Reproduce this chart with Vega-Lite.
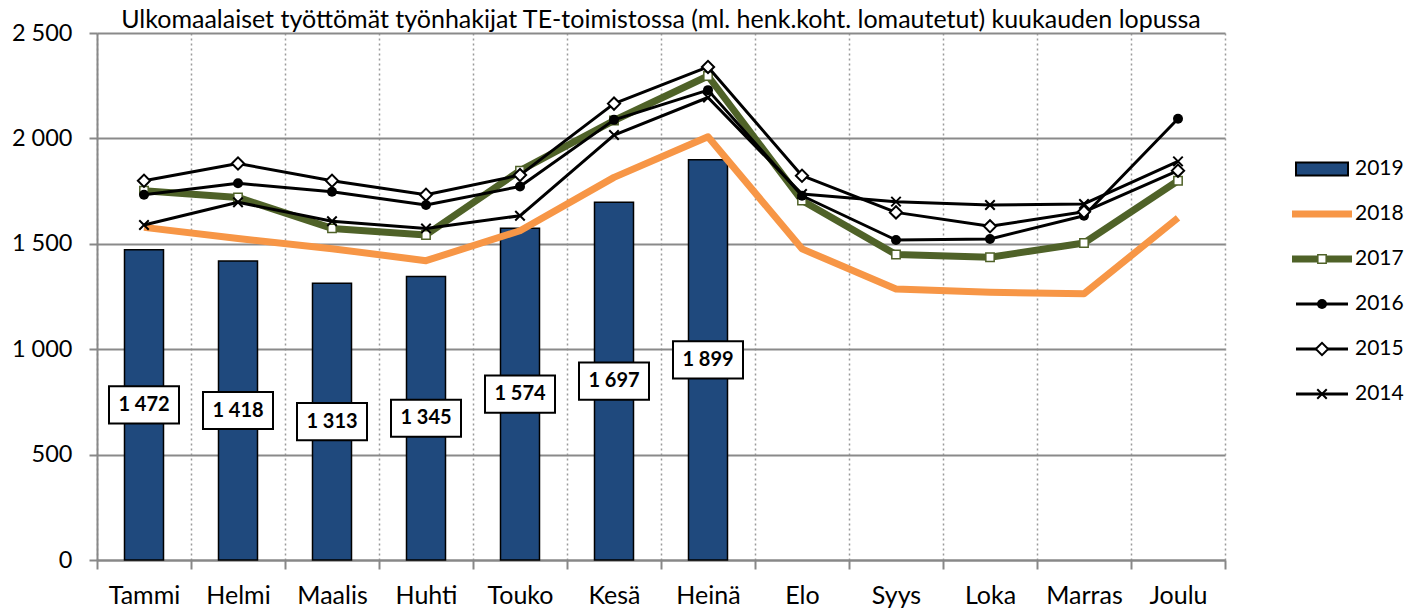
{
  "$schema": "https://vega.github.io/schema/vega-lite/v6.json",
  "autosize": "none",
  "width": 1128,
  "height": 527,
  "padding": {"left": 97, "top": 33, "right": 181, "bottom": 53},
  "background": "white",
  "config": {
    "view": {"stroke": null},
    "font": "Lato",
    "locale": {"number": {"decimal": ",", "thousands": " ", "grouping": [3], "currency": ["", " €"]}}
  },
  "datasets": {
    "series": [
      {"month": "Tammi", "year": "2019", "value": 1472},
      {"month": "Helmi", "year": "2019", "value": 1418},
      {"month": "Maalis", "year": "2019", "value": 1313},
      {"month": "Huhti", "year": "2019", "value": 1345},
      {"month": "Touko", "year": "2019", "value": 1574},
      {"month": "Kesä", "year": "2019", "value": 1697},
      {"month": "Heinä", "year": "2019", "value": 1899},
      {"month": "Tammi", "year": "2018", "value": 1578},
      {"month": "Helmi", "year": "2018", "value": 1525},
      {"month": "Maalis", "year": "2018", "value": 1477},
      {"month": "Huhti", "year": "2018", "value": 1420},
      {"month": "Touko", "year": "2018", "value": 1562},
      {"month": "Kesä", "year": "2018", "value": 1815},
      {"month": "Heinä", "year": "2018", "value": 2008},
      {"month": "Elo", "year": "2018", "value": 1476},
      {"month": "Syys", "year": "2018", "value": 1286},
      {"month": "Loka", "year": "2018", "value": 1270},
      {"month": "Marras", "year": "2018", "value": 1263},
      {"month": "Joulu", "year": "2018", "value": 1623},
      {"month": "Tammi", "year": "2017", "value": 1752},
      {"month": "Helmi", "year": "2017", "value": 1720},
      {"month": "Maalis", "year": "2017", "value": 1573},
      {"month": "Huhti", "year": "2017", "value": 1542},
      {"month": "Touko", "year": "2017", "value": 1847},
      {"month": "Kesä", "year": "2017", "value": 2085},
      {"month": "Heinä", "year": "2017", "value": 2296},
      {"month": "Elo", "year": "2017", "value": 1705},
      {"month": "Syys", "year": "2017", "value": 1449},
      {"month": "Loka", "year": "2017", "value": 1436},
      {"month": "Marras", "year": "2017", "value": 1504},
      {"month": "Joulu", "year": "2017", "value": 1799},
      {"month": "Tammi", "year": "2016", "value": 1733},
      {"month": "Helmi", "year": "2016", "value": 1787},
      {"month": "Maalis", "year": "2016", "value": 1747},
      {"month": "Huhti", "year": "2016", "value": 1684},
      {"month": "Touko", "year": "2016", "value": 1772},
      {"month": "Kesä", "year": "2016", "value": 2088},
      {"month": "Heinä", "year": "2016", "value": 2229},
      {"month": "Elo", "year": "2016", "value": 1728},
      {"month": "Syys", "year": "2016", "value": 1518},
      {"month": "Loka", "year": "2016", "value": 1523},
      {"month": "Marras", "year": "2016", "value": 1633},
      {"month": "Joulu", "year": "2016", "value": 2093},
      {"month": "Tammi", "year": "2015", "value": 1799},
      {"month": "Helmi", "year": "2015", "value": 1881},
      {"month": "Maalis", "year": "2015", "value": 1799},
      {"month": "Huhti", "year": "2015", "value": 1733},
      {"month": "Touko", "year": "2015", "value": 1826},
      {"month": "Kesä", "year": "2015", "value": 2165},
      {"month": "Heinä", "year": "2015", "value": 2339},
      {"month": "Elo", "year": "2015", "value": 1823},
      {"month": "Syys", "year": "2015", "value": 1649},
      {"month": "Loka", "year": "2015", "value": 1583},
      {"month": "Marras", "year": "2015", "value": 1652},
      {"month": "Joulu", "year": "2015", "value": 1847},
      {"month": "Tammi", "year": "2014", "value": 1589},
      {"month": "Helmi", "year": "2014", "value": 1697},
      {"month": "Maalis", "year": "2014", "value": 1607},
      {"month": "Huhti", "year": "2014", "value": 1573},
      {"month": "Touko", "year": "2014", "value": 1633},
      {"month": "Kesä", "year": "2014", "value": 2016},
      {"month": "Heinä", "year": "2014", "value": 2194},
      {"month": "Elo", "year": "2014", "value": 1736},
      {"month": "Syys", "year": "2014", "value": 1700},
      {"month": "Loka", "year": "2014", "value": 1684},
      {"month": "Marras", "year": "2014", "value": 1689},
      {"month": "Joulu", "year": "2014", "value": 1891}
    ],
    "legend": [
      {"year": "2019"},
      {"year": "2018"},
      {"year": "2017"},
      {"year": "2016"},
      {"year": "2015"},
      {"year": "2014"}
    ]
  },
  "layer": [
    {
      "title": {
        "text": "Ulkomaalaiset työttömät työnhakijat TE-toimistossa (ml. henk.koht. lomautetut) kuukauden lopussa",
        "fontSize": 25,
        "font": "Lato",
        "fontWeight": "normal",
        "color": "black",
        "anchor": "middle",
        "offset": -12
      },
      "data": {"name": "series"},
      "encoding": {
        "x": {
          "field": "month",
          "type": "nominal",
          "sort": ["Tammi", "Helmi", "Maalis", "Huhti", "Touko", "Kesä", "Heinä", "Elo", "Syys", "Loka", "Marras", "Joulu"],
          "scale": {"type": "band", "paddingInner": 0, "paddingOuter": 0},
          "axis": {
            "title": null,
            "tickBand": "extent",
            "labelAngle": 0,
            "labelFont": "Lato",
            "labelFontSize": 25,
            "labelColor": "black",
            "labelPadding": 14,
            "grid": true,
            "gridDash": [2, 3],
            "gridColor": "#9a9a9a",
            "gridWidth": 1.5,
            "domainColor": "#888888",
            "domainWidth": 2,
            "tickColor": "#888888",
            "tickWidth": 2,
            "tickSize": 9
          }
        },
        "y": {
          "field": "value",
          "type": "quantitative",
          "scale": {"domain": [0, 2500], "nice": false},
          "axis": {
            "title": null,
            "values": [0, 500, 1000, 1500, 2000, 2500],
            "format": ",d",
            "labelFont": "Lato",
            "labelFontSize": 23.5,
            "labelColor": "black",
            "labelPadding": 17,
            "grid": true,
            "gridColor": "#8a8a8a",
            "gridWidth": 2,
            "domainColor": "#888888",
            "domainWidth": 2,
            "tickColor": "#888888",
            "tickWidth": 2,
            "tickSize": 8
          }
        }
      },
      "layer": [
        {
          "transform": [{"filter": "datum.year == '2019'"}],
          "mark": {"type": "bar", "size": 39, "fill": "#1F497D", "stroke": "black", "strokeWidth": 1.5}
        },
        {
          "transform": [{"filter": "datum.year == '2018'"}],
          "mark": {"type": "line", "color": "#F79646", "strokeWidth": 7, "strokeJoin": "round"}
        },
        {
          "transform": [{"filter": "datum.year == '2017'"}],
          "mark": {"type": "line", "color": "#4F6228", "strokeWidth": 7, "strokeJoin": "round"}
        },
        {
          "transform": [{"filter": "datum.year == '2017'"}],
          "mark": {"type": "point", "shape": "square", "filled": true, "fill": "white", "stroke": "#4F6228", "strokeWidth": 1.5, "size": 70, "opacity": 1}
        },
        {
          "transform": [{"filter": "datum.year == '2016'"}],
          "mark": {"type": "line", "color": "black", "strokeWidth": 3, "strokeJoin": "round"}
        },
        {
          "transform": [{"filter": "datum.year == '2016'"}],
          "mark": {"type": "point", "shape": "circle", "filled": true, "fill": "black", "size": 100, "opacity": 1}
        },
        {
          "transform": [{"filter": "datum.year == '2015'"}],
          "mark": {"type": "line", "color": "black", "strokeWidth": 3, "strokeJoin": "round"}
        },
        {
          "transform": [{"filter": "datum.year == '2015'"}],
          "mark": {"type": "point", "shape": "diamond", "filled": true, "fill": "white", "stroke": "black", "strokeWidth": 2, "size": 150, "opacity": 1}
        },
        {
          "transform": [{"filter": "datum.year == '2014'"}],
          "mark": {"type": "line", "color": "black", "strokeWidth": 3, "strokeJoin": "round"}
        },
        {
          "transform": [{"filter": "datum.year == '2014'"}],
          "mark": {"type": "point", "shape": "M-1,-1L1,1M-1,1L1,-1", "filled": false, "stroke": "black", "strokeWidth": 2, "size": 90, "opacity": 1}
        },
        {
          "transform": [{"filter": "datum.year == '2019'"}, {"calculate": "datum.value / 2", "as": "mid"}],
          "mark": {"type": "point", "shape": "M-1,-0.53H1V0.53H-1Z", "filled": true, "fill": "white", "stroke": "black", "strokeWidth": 2, "size": 4900, "opacity": 1},
          "encoding": {"y": {"field": "mid", "type": "quantitative"}}
        },
        {
          "transform": [{"filter": "datum.year == '2019'"}, {"calculate": "datum.value / 2", "as": "mid"}],
          "mark": {"type": "text", "font": "Lato", "fontSize": 20, "fontWeight": "bold", "color": "black", "baseline": "middle", "align": "center"},
          "encoding": {
            "y": {"field": "mid", "type": "quantitative"},
            "text": {"field": "value", "type": "quantitative", "format": ",d"}
          }
        }
      ]
    },
    {
      "data": {"name": "legend"},
      "encoding": {
        "y": {
          "field": "year",
          "type": "nominal",
          "sort": ["2019", "2018", "2017", "2016", "2015", "2014"],
          "scale": {"type": "point", "range": [136, 361], "padding": 0},
          "axis": null
        }
      },
      "layer": [
        {
          "transform": [{"filter": "datum.year == '2019'"}],
          "mark": {"type": "point", "shape": "M-1,-0.25H1V0.25H-1Z", "filled": true, "fill": "#1F497D", "stroke": "black", "strokeWidth": 2, "size": 2704, "opacity": 1},
          "encoding": {"x": {"datum": 30, "type": "quantitative", "scale": {"domain": [0, 60], "range": [1195, 1255]}, "axis": null}}
        },
        {
          "transform": [{"filter": "datum.year == '2018'"}],
          "mark": {"type": "rule", "color": "#F79646", "strokeWidth": 7},
          "encoding": {"x": {"datum": 0, "type": "quantitative"}, "x2": {"datum": 60}}
        },
        {
          "transform": [{"filter": "datum.year == '2017'"}],
          "mark": {"type": "rule", "color": "#4F6228", "strokeWidth": 7},
          "encoding": {"x": {"datum": 0, "type": "quantitative"}, "x2": {"datum": 60}}
        },
        {
          "transform": [{"filter": "datum.year == '2017'"}],
          "mark": {"type": "point", "shape": "square", "filled": true, "fill": "white", "stroke": "#4F6228", "strokeWidth": 1.5, "size": 70, "opacity": 1},
          "encoding": {"x": {"datum": 30, "type": "quantitative"}}
        },
        {
          "transform": [{"filter": "datum.year == '2016' || datum.year == '2015' || datum.year == '2014'"}],
          "mark": {"type": "rule", "color": "black", "strokeWidth": 3},
          "encoding": {"x": {"datum": 4, "type": "quantitative"}, "x2": {"datum": 56}}
        },
        {
          "transform": [{"filter": "datum.year == '2016'"}],
          "mark": {"type": "point", "shape": "circle", "filled": true, "fill": "black", "size": 100, "opacity": 1},
          "encoding": {"x": {"datum": 30, "type": "quantitative"}}
        },
        {
          "transform": [{"filter": "datum.year == '2015'"}],
          "mark": {"type": "point", "shape": "diamond", "filled": true, "fill": "white", "stroke": "black", "strokeWidth": 2, "size": 150, "opacity": 1},
          "encoding": {"x": {"datum": 30, "type": "quantitative"}}
        },
        {
          "transform": [{"filter": "datum.year == '2014'"}],
          "mark": {"type": "point", "shape": "M-1,-1L1,1M-1,1L1,-1", "filled": false, "stroke": "black", "strokeWidth": 2, "size": 90, "opacity": 1},
          "encoding": {"x": {"datum": 30, "type": "quantitative"}}
        },
        {
          "mark": {"type": "text", "font": "Lato", "fontSize": 21, "color": "black", "align": "left", "baseline": "middle", "dx": 3},
          "encoding": {
            "x": {"datum": 60, "type": "quantitative"},
            "text": {"field": "year", "type": "nominal"}
          }
        }
      ]
    }
  ],
  "resolve": {"scale": {"x": "independent", "y": "independent"}}
}
